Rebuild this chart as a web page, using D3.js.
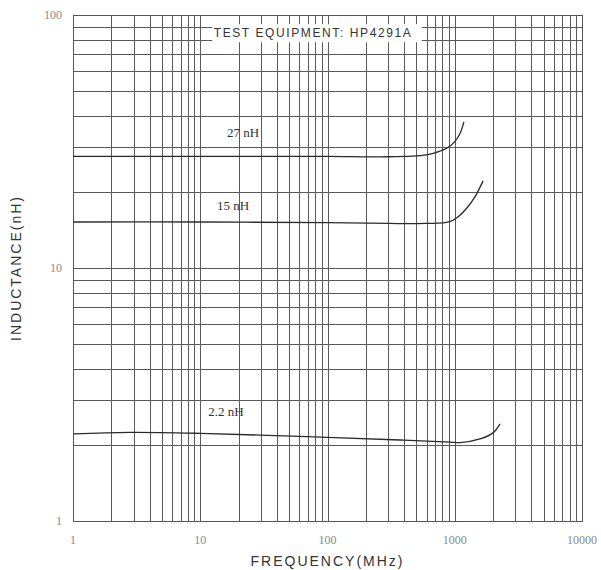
<!DOCTYPE html>
<html>
<head>
<meta charset="utf-8">
<script src="https://cdn.jsdelivr.net/npm/d3@7"></script>
<style>
  body { margin: 0; background: #fff; }
  .grid line { stroke: #5a5a5a; stroke-width: 1; shape-rendering: crispEdges; }
  .tick-lab { font-family: "Liberation Serif", serif; font-size: 12px; fill: #888; }
  .axis-title { font-family: "Liberation Sans", Arial, sans-serif; font-size: 14px; fill: #333; letter-spacing: 2px; }
  .curve-lab { font-family: "Liberation Serif", serif; font-size: 13px; fill: #333; }
</style>
</head>
<body>
<svg id="svg1" width="601" height="570"></svg>
<script>
// frequency (MHz) / inductance (nH)
const freq27 = [1, 10, 100, 260, 600, 770, 870, 1000, 1100, 1180];
const ind27 = [27.6, 27.6, 27.6, 27.5, 28.0, 29.0, 29.8, 31.6, 34.0, 37.8];

const freq15 = [1, 10, 100, 300, 600, 900, 1040, 1250, 1440, 1670];
const ind15 = [15.2, 15.2, 15.1, 15.0, 15.0, 15.2, 15.8, 17.3, 19.1, 22.1];

const freq22 = [1, 2.8, 10, 60, 370, 920, 1100, 1580, 2000, 2270];
const ind22 = [2.21, 2.24, 2.22, 2.16, 2.09, 2.05, 2.04, 2.11, 2.23, 2.42];

const curveNames = ["27 nH", "15 nH", "2.2 nH"];
const xTickLabels = ["1", "10", "100", "1000", "10000"];
const yTickLabels = ["1", "10", "100"];

const svg = d3.select("#svg1");
const margin = { top: 15, right: 19, bottom: 49, left: 73 };
const width = 601 - margin.left - margin.right;
const height = 570 - margin.top - margin.bottom;

const x = d3.scaleLog().domain([1, 10000]).range([0, width]);
const y = d3.scaleLog().domain([1, 100]).range([height, 0]);

const g = svg.append("g")
    .attr("transform", "translate(" + margin.left + "," + margin.top + ")");

// log grid: 1..9 in every decade
const xGrid = [];
for (let d = 1; d < 10000; d *= 10) for (let k = 1; k <= 10; k++) xGrid.push(d * k);
const yGrid = [];
for (let d = 1; d < 100; d *= 10) for (let k = 1; k <= 10; k++) yGrid.push(d * k);

const grid = g.append("g").attr("class", "grid");
grid.selectAll("line.v")
    .data(Array.from(new Set(xGrid)))
    .enter().append("line")
    .attr("class", "v")
    .attr("x1", d => Math.round(x(d)) + 0.5).attr("x2", d => Math.round(x(d)) + 0.5)
    .attr("y1", 0).attr("y2", height);
grid.selectAll("line.h")
    .data(Array.from(new Set(yGrid)))
    .enter().append("line")
    .attr("class", "h")
    .attr("y1", d => Math.round(y(d)) + 0.5).attr("y2", d => Math.round(y(d)) + 0.5)
    .attr("x1", 0).attr("x2", width);
g.append("rect")
    .attr("x", 0.5).attr("y", 0.5)
    .attr("width", width).attr("height", height)
    .attr("fill", "none").attr("stroke", "#555");

// test equipment note
g.append("rect")
    .attr("x", x(12.4)).attr("y", y(92))
    .attr("width", x(550) - x(12.4)).attr("height", y(78) - y(92))
    .attr("fill", "#fff");
g.append("text")
    .attr("class", "axis-title")
    .attr("x", x(77)).attr("y", y(84.5))
    .attr("text-anchor", "middle")
    .attr("dominant-baseline", "middle")
    .style("font-size", "12px")
    .style("letter-spacing", "1.6px")
    .text("TEST EQUIPMENT: HP4291A");

// tick labels
g.selectAll("text.xl")
    .data(xTickLabels)
    .enter().append("text")
    .attr("class", "tick-lab")
    .attr("x", d => x(+d)).attr("y", height + 23)
    .attr("text-anchor", "middle")
    .text(d => d);
g.selectAll("text.yl")
    .data(yTickLabels)
    .enter().append("text")
    .attr("class", "tick-lab")
    .attr("x", -11).attr("y", d => y(+d) + 4)
    .attr("text-anchor", "end")
    .text(d => d);

// axis titles
svg.append("text")
    .attr("class", "axis-title")
    .attr("x", margin.left + x(100)).attr("y", 566)
    .attr("text-anchor", "middle")
    .text("FREQUENCY(MHz)");
svg.append("text")
    .attr("class", "axis-title")
    .attr("transform", "translate(21," + (margin.top + y(10)) + ") rotate(-90)")
    .attr("text-anchor", "middle")
    .text("INDUCTANCE(nH)");

// curves
const line = d3.line()
    .x(d => x(d[0]))
    .y(d => y(d[1]))
    .curve(d3.curveCatmullRom.alpha(0.5));

const series = [
    d3.zip(freq27, ind27),
    d3.zip(freq15, ind15),
    d3.zip(freq22, ind22)
];
g.selectAll("path.curve")
    .data(series)
    .enter().append("path")
    .attr("class", "curve")
    .attr("d", line)
    .attr("fill", "none")
    .attr("stroke", "#2a2a2a")
    .attr("stroke-width", 1.3);

const labelPos = [[21.7, 33], [18.1, 16.9], [15.9, 2.6]];
g.selectAll("text.cl")
    .data(curveNames)
    .enter().append("text")
    .attr("class", "curve-lab")
    .attr("x", (d, i) => x(labelPos[i][0]))
    .attr("y", (d, i) => y(labelPos[i][1]))
    .attr("text-anchor", "middle")
    .text(d => d);
</script>
</body>
</html>
